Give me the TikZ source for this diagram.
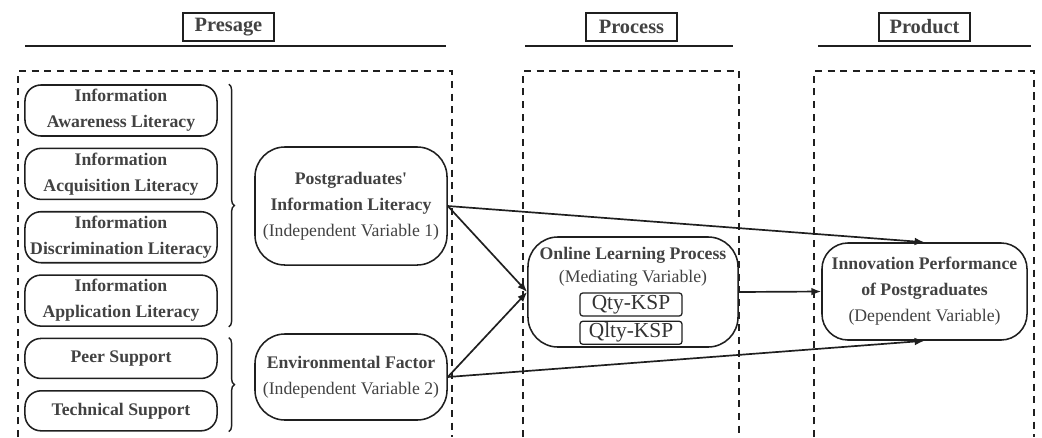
\documentclass[tikz,border=0pt]{standalone}
\usepackage{fontspec}
\setmainfont{Liberation Serif}
\usetikzlibrary{shapes, arrows.meta, positioning, decorations.pathreplacing, calc}
\colorlet{ink}{black!88}
\colorlet{txt}{black!74}

\begin{document}
\begin{tikzpicture}[x=0.025cm, y=-0.025cm,
    head/.style={draw=ink,line width=1.2pt,rectangle,minimum width=2.275cm,minimum height=0.7cm,inner sep=1pt,text=txt,font=\fontsize{14.5}{16}\selectfont\bfseries},
    item/.style={draw=ink,line width=1.1pt,rectangle,rounded corners=0.4cm,node distance=0.27cm,align=center,minimum width=4.8cm,minimum height=1.275cm,inner sep=0pt,text=txt,font=\fontsize{12.6}{18.5}\selectfont\bfseries},
    var/.style={draw=ink,line width=1.1pt,rectangle,rounded corners=0.75cm,align=center,inner sep=0pt,text=txt,font=\fontsize{12.6}{18.5}\selectfont},
    lbl/.style={align=center,inner sep=0pt,text=txt,font=\fontsize{12.6}{16.5}\selectfont},
    ksp/.style={draw=ink,line width=0.9pt,rectangle,rounded corners=2pt,minimum width=2.55cm,minimum height=0.575cm,inner sep=0pt,text=black!80,font=\fontsize{15.2}{16}\selectfont},
    rule/.style={draw=ink,line width=1.3pt},
    frame/.style={draw=ink,line width=1.3pt,dash pattern=on 5pt off 4pt},
    brc/.style={draw=ink,line width=1pt,decorate,decoration={brace,amplitude=4pt}},
    arr/.style={draw=ink,line width=1.2pt,-{Latex[length=7pt,width=5.5pt]}}]
    \useasboundingbox (0,0) rectangle (1042,437);
    \node (pre) [head] at (228.5,27) {Presage};
    \node (pro) [head] at (631.5,27) {Process};
    \node (prd) [head] at (924.5,27) {Product};
    \draw[rule] (25,46) -- (446,46);
    \draw[rule] (525,46) -- (733,46);
    \draw[rule] (818,46) -- (1031,46);
    \draw[frame] (18,437) |- (452,71) -- (452,437);
    \draw[frame] (523,437) |- (739,71) -- (739,437);
    \draw[frame] (814,437) |- (1034,71) -- (1034,437);
    \node (ial) [item] at (121,110.5) {Information\\Awareness Literacy};
    \node (iql) [item,below=of ial] {Information\\Acquisition Literacy};
    \node (idl) [item,below=of iql] {Information\\Discrimination Literacy};
    \node (ipl) [item,below=of idl] {Information\\Application Literacy};
    \node (pes) [item,below=of ipl,minimum height=1cm] {Peer Support};
    \node (tes) [item,below=of pes,minimum height=1cm] {Technical Support};
    \draw[brc] ([xshift=0.275cm]ial.north east) -- ([xshift=0.275cm]ipl.south east);
    \draw[brc] ([xshift=0.275cm]pes.north east) -- ([xshift=0.275cm]tes.south east);
    \node (pil) [var,minimum width=4.8cm,minimum height=2.95cm] at (351,206) {\textbf{Postgraduates\textquotesingle}\\\textbf{Information Literacy}\\(Independent Variable 1)};
    \node (env) [var,minimum width=4.8cm,minimum height=2.15cm] at (351,377) {\textbf{Environmental Factor}\\(Independent Variable 2)};
    \node (olp) [var,minimum width=5.25cm,minimum height=2.75cm] at (633,292) {};
    \node (olt) [lbl] at (633,267) {\textbf{Online Learning Process}\\(Mediating Variable)};
    \node (qty) [ksp] at (631,304.5) {Qty-KSP};
    \node (qlt) [ksp,below=0.1cm of qty] {Qlty-KSP};
    \node (inn) [var,rounded corners=0.65cm,minimum width=5.125cm,minimum height=2.425cm] at (924.5,291.5) {\textbf{Innovation Performance}\\\textbf{of Postgraduates}\\(Dependent Variable)};
    \draw[arr] (pil.east) -- (olp.west);
    \draw[arr] (env.east) -- (olp.west);
    \draw[arr] (pil.east) -- (inn.north);
    \draw[arr] (env.east) -- (inn.south);
    \draw[arr] (olp.east) -- (inn.west);
\end{tikzpicture}
\end{document}
